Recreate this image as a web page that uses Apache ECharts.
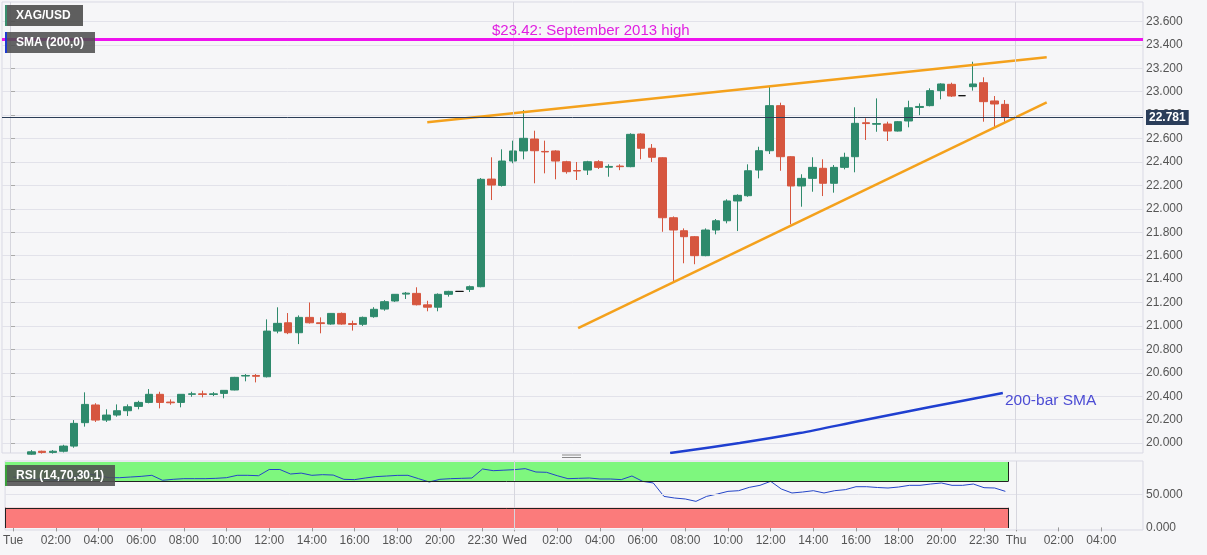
<!DOCTYPE html>
<html>
<head>
<meta charset="utf-8">
<title>XAG/USD</title>
<script src="https://cdn.jsdelivr.net/npm/echarts@6/dist/echarts.min.js"></script>
<style>
  html, body { margin: 0; padding: 0; background: #f6f6f8; }
  #chart { width: 1207px; height: 555px; }
</style>
</head>
<body>
<div id="chart"></div>
<script>
// x axis: bar index of each time label (30 min bars, 22:00 bar missing each day)
const tickBars = [0, 4, 8, 12, 16, 20, 24, 28, 32, 36, 40, 44,
  47, 51, 55, 59, 63, 67, 71, 75, 79, 83, 87, 91, 94, 98, 102];
const tickLabels = ['Tue', '02:00', '04:00', '06:00', '08:00', '10:00', '12:00', '14:00', '16:00', '18:00', '20:00', '22:30',
  'Wed', '02:00', '04:00', '06:00', '08:00', '10:00', '12:00', '14:00', '16:00', '18:00', '20:00', '22:30',
  'Thu', '02:00', '04:00'];
const dayBars = [0, 47, 94];

const priceTicks = [20.0, 20.2, 20.4, 20.6, 20.8, 21.0, 21.2, 21.4, 21.6, 21.8, 22.0,
  22.2, 22.4, 22.6, 22.8, 23.0, 23.2, 23.4, 23.6];
const rsiTicks = [0, 50];

// [open, close, low, high] per bar
const candles = [
  [19.89, 19.90, 19.86, 19.91], [19.90, 19.905, 19.88, 19.912], [19.905, 19.925, 19.90, 19.94], [19.93, 19.92, 19.91, 19.935],
  [19.92, 19.93, 19.91, 19.94], [19.93, 19.974, 19.92, 19.985], [19.974, 20.168, 19.96, 20.196], [20.174, 20.33, 20.14, 20.433],
  [20.325, 20.196, 20.18, 20.34], [20.196, 20.239, 20.18, 20.288], [20.239, 20.276, 20.225, 20.33], [20.276, 20.31, 20.231, 20.33],
  [20.313, 20.347, 20.288, 20.361], [20.347, 20.416, 20.339, 20.461], [20.416, 20.347, 20.296, 20.438], [20.35, 20.344, 20.327, 20.373],
  [20.347, 20.416, 20.305, 20.416], [20.416, 20.42, 20.395, 20.438], [20.42, 20.415, 20.39, 20.447], [20.415, 20.42, 20.401, 20.435],
  [20.424, 20.45, 20.382, 20.45], [20.453, 20.561, 20.45, 20.565], [20.572, 20.577, 20.527, 20.589], [20.577, 20.57, 20.518, 20.589],
  [20.566, 20.956, 20.56, 21.056], [20.956, 21.022, 20.937, 21.159], [21.027, 20.942, 20.93, 21.11], [20.942, 21.073, 20.845, 21.09],
  [21.073, 21.027, 21.02, 21.2], [21.027, 21.02, 20.937, 21.073], [21.016, 21.107, 21.01, 21.11], [21.107, 21.016, 21.01, 21.115],
  [21.02, 21.012, 20.96, 21.045], [21.014, 21.073, 21.0, 21.08], [21.079, 21.142, 21.07, 21.16], [21.144, 21.207, 21.13, 21.22],
  [21.213, 21.27, 21.205, 21.272], [21.272, 21.28, 21.23, 21.29], [21.278, 21.181, 21.175, 21.33], [21.18, 21.16, 21.125, 21.215],
  [21.16, 21.27, 21.125, 21.278], [21.27, 21.295, 21.25, 21.30], [21.295, 21.295, 21.295, 21.295], [21.312, 21.335, 21.29, 21.345],
  [21.335, 22.252, 21.33, 22.263], [22.254, 22.203, 22.075, 22.44], [22.2, 22.408, 22.19, 22.508], [22.408, 22.494, 22.389, 22.582],
  [22.494, 22.602, 22.423, 22.844], [22.596, 22.496, 22.218, 22.667], [22.49, 22.486, 22.303, 22.582], [22.494, 22.408, 22.252, 22.50],
  [22.402, 22.317, 22.30, 22.41], [22.327, 22.323, 22.246, 22.40], [22.331, 22.402, 22.289, 22.41], [22.402, 22.354, 22.34, 22.415],
  [22.355, 22.362, 22.274, 22.38], [22.365, 22.36, 22.33, 22.38], [22.36, 22.636, 22.355, 22.645], [22.639, 22.517, 22.423, 22.645],
  [22.517, 22.44, 22.40, 22.553], [22.436, 21.924, 21.804, 22.44], [21.924, 21.819, 21.377, 21.935], [21.813, 21.762, 21.535, 21.833],
  [21.762, 21.6, 21.527, 21.768], [21.6, 21.819, 21.595, 21.833], [21.819, 21.898, 21.782, 21.913], [21.898, 22.067, 21.876, 22.081],
  [22.067, 22.115, 21.81, 22.124], [22.112, 22.325, 22.103, 22.38], [22.331, 22.496, 22.26, 22.53], [22.496, 22.881, 22.468, 23.043],
  [22.881, 22.445, 22.325, 22.906], [22.445, 22.195, 21.868, 22.45], [22.195, 22.26, 22.018, 22.295], [22.26, 22.354, 22.146, 22.44],
  [22.346, 22.218, 22.109, 22.423], [22.218, 22.354, 22.138, 22.374], [22.354, 22.44, 22.337, 22.479], [22.445, 22.73, 22.312, 22.867],
  [22.735, 22.728, 22.588, 22.773], [22.722, 22.728, 22.658, 22.943], [22.724, 22.664, 22.579, 22.744], [22.664, 22.744, 22.66, 22.75],
  [22.75, 22.863, 22.696, 22.923], [22.866, 22.874, 22.80, 22.90], [22.881, 23.009, 22.875, 23.029], [23.009, 23.066, 22.935, 23.072],
  [23.063, 22.963, 22.955, 23.077], [22.966, 22.966, 22.966, 22.966], [23.043, 23.066, 23.009, 23.256], [23.077, 22.915, 22.744, 23.123],
  [22.921, 22.895, 22.696, 22.963], [22.892, 22.781, 22.744, 22.929]
];

// RSI(14) per bar
const rsi = [77, 76, 74, 73, 72, 73, 78, 82, 79, 76,
  76, 77, 78, 79.6, 72, 73.5, 74.5, 74.5, 74.5, 75,
  76, 79.6, 79.6, 79, 88.5, 88.5, 81.6, 83, 79.6, 80.6,
  80, 73.5, 73, 75.5, 77.6, 78.5, 79.5, 79.6, 74.5, 69.4,
  73.5, 74.5, 75, 75.5, 89.3, 86.7, 87.5, 88.3, 89.8, 84.7,
  84.2, 79, 74.5, 75, 75.5, 74, 74, 73, 78.6, 70.4,
  67.9, 47.4, 44.9, 43.4, 39.8, 47.4, 51, 55.1, 56.1, 61.2,
  64.3, 70.4, 58.7, 52.6, 54.1, 56.1, 52.6, 56.1, 57.7, 62.2,
  62.2, 61, 60.2, 61.7, 64.3, 64.3, 66.3, 67.9, 64.3, 64.3,
  66.3, 60.7, 60.2, 55.1];

// 200-bar SMA, [bar, price] read along the visible part of the line
const sma = [[61.7, 19.915], [68.2, 20.0], [73.8, 20.085], [79.4, 20.188], [86, 20.307], [92.8, 20.427]];
// trend lines, [bar, price]
const trendUpper = [[39.0, 22.739], [96.9, 23.294]];
const trendLower = [[53.1, 20.982], [96.9, 22.909]];
const resistance = 23.447;
const lastPrice = 22.781;

const upColor = '#2e8a6c';
const downColor = '#d6563f';
const fontFam = '"Liberation Sans", Arial, sans-serif';

const chart = echarts.init(document.getElementById('chart'));

const option = {
  animation: false,
  backgroundColor: '#f6f6f8',
  grid: [
    { left: 2, top: 2, width: 1141, height: 451, show: true, borderColor: '#d9d9e4', backgroundColor: 'transparent' },
    { left: 2, top: 461, width: 1141, height: 69, show: true, borderColor: '#d9d9e4', backgroundColor: 'transparent' }
  ],
  xAxis: [
    { type: 'value', gridIndex: 0, min: -0.75, max: 105.9, show: false, splitLine: { show: false } },
    {
      type: 'value', gridIndex: 1, min: -0.75, max: 105.9,
      axisLine: { show: false },
      splitLine: { show: false },
      axisTick: { show: true, customValues: tickBars, length: 4, lineStyle: { color: '#999' } },
      axisLabel: {
        customValues: tickBars,
        formatter: v => tickLabels[tickBars.indexOf(v)],
        color: '#555', fontSize: 12, fontFamily: fontFam, margin: 5
      }
    }
  ],
  yAxis: [
    {
      type: 'value', gridIndex: 0, position: 'right', min: 19.915, max: 23.766,
      axisLine: { show: false },
      axisTick: { show: true, customValues: priceTicks, length: 5, lineStyle: { color: '#aaa' } },
      axisLabel: {
        customValues: priceTicks,
        formatter: v => v.toFixed(3),
        color: '#555', fontSize: 12, fontFamily: fontFam, margin: 3
      },
      splitLine: { show: true, lineStyle: { color: '#e2e2ea' } }
    },
    {
      type: 'value', gridIndex: 1, position: 'right', min: -4, max: 101.5,
      axisLine: { show: false },
      axisTick: { show: true, customValues: rsiTicks, length: 5, lineStyle: { color: '#aaa' } },
      axisLabel: {
        customValues: rsiTicks,
        formatter: v => v.toFixed(3),
        color: '#555', fontSize: 12, fontFamily: fontFam, margin: 3
      },
      splitLine: { show: false }
    }
  ],
  series: [
    {
      name: 'SMA',
      type: 'line',
      xAxisIndex: 0, yAxisIndex: 0,
      data: sma,
      smooth: 0.3,
      symbol: 'none',
      z: 1,
      lineStyle: { color: '#1f3fd0', width: 2.5 },
      markLine: {
        silent: true, symbol: 'none', label: { show: false },
        lineStyle: { color: '#d6d6de', width: 1, type: 'solid' },
        data: dayBars.map(b => ({ xAxis: b }))
      }
    },
    {
      name: 'XAG/USD',
      type: 'candlestick',
      xAxisIndex: 0, yAxisIndex: 0,
      data: candles.map((c, i) => [i, c[0], c[1], c[2], c[3]]),
      encode: { x: 0, y: [1, 2, 3, 4] },
      barWidth: 8,
      z: 3,
      itemStyle: {
        color: upColor, color0: downColor,
        borderColor: upColor, borderColor0: downColor,
        borderColorDoji: '#111', borderWidth: 1
      },
      markLine: {
        silent: true, symbol: 'none',
        data: [
          { yAxis: resistance, lineStyle: { color: '#ee12ee', width: 3, type: 'solid' }, label: { show: false } },
          {
            yAxis: lastPrice,
            lineStyle: { color: '#2b3d57', width: 1, type: 'solid' },
            label: {
              show: true, position: 'end', distance: 3,
              formatter: lastPrice.toFixed(3),
              backgroundColor: '#2a3d5a', color: '#fff', fontWeight: 'bold',
              fontSize: 12, fontFamily: fontFam, padding: [2, 3, 1, 3]
            }
          }
        ]
      }
    },
    {
      name: 'upper trend',
      type: 'line',
      xAxisIndex: 0, yAxisIndex: 0,
      data: trendUpper,
      symbol: 'none', z: 4,
      lineStyle: { color: '#f4a11c', width: 2.5 }
    },
    {
      name: 'lower trend',
      type: 'line',
      xAxisIndex: 0, yAxisIndex: 0,
      data: trendLower,
      symbol: 'none', z: 4,
      lineStyle: { color: '#f4a11c', width: 2.5 }
    },
    {
      name: 'RSI',
      type: 'line',
      xAxisIndex: 1, yAxisIndex: 1,
      data: rsi.map((v, i) => [i, v]),
      symbol: 'none', z: 3,
      lineStyle: { color: '#2445c8', width: 1 },
      markArea: {
        silent: true,
        data: [
          [{ xAxis: -0.75, yAxis: 70, itemStyle: { color: '#7ef77e' } }, { xAxis: 93.25, yAxis: 100 }],
          [{ xAxis: -0.75, yAxis: -1, itemStyle: { color: '#fb7b7b' } }, { xAxis: 93.25, yAxis: 30 }]
        ]
      },
      markLine: {
        silent: true, symbol: 'none', label: { show: false },
        lineStyle: { color: '#222', width: 1, type: 'solid' },
        data: [
          { yAxis: 50, lineStyle: { color: '#e2e2ea' } },
          { xAxis: 47, lineStyle: { color: '#d6d6de' } },
          { xAxis: 94, lineStyle: { color: '#d6d6de' } },
          [{ coord: [-0.75, 70] }, { coord: [93.25, 70] }],
          [{ coord: [-0.75, 30] }, { coord: [93.25, 30] }],
          [{ coord: [93.25, 70] }, { coord: [93.25, 100] }],
          [{ coord: [93.25, -1] }, { coord: [93.25, 30] }],
          [{ coord: [-0.75, -1] }, { coord: [-0.75, 30] }]
        ]
      }
    }
  ],
  graphic: [
    { type: 'rect', z: 100, shape: { x: 5, y: 5, width: 78, height: 21 }, style: { fill: 'rgba(80,80,80,0.92)' } },
    { type: 'rect', z: 101, shape: { x: 5, y: 5, width: 2, height: 21 }, style: { fill: '#3a8f6e' } },
    { type: 'text', z: 101, style: { text: 'XAG/USD', x: 16, y: 16, verticalAlign: 'middle', fill: '#fff', font: 'bold 12px ' + fontFam } },

    { type: 'rect', z: 100, shape: { x: 5, y: 32, width: 90, height: 21 }, style: { fill: 'rgba(80,80,80,0.88)' } },
    { type: 'rect', z: 101, shape: { x: 5, y: 32, width: 2, height: 21 }, style: { fill: '#1f3bd0' } },
    { type: 'text', z: 101, style: { text: 'SMA (200,0)', x: 16, y: 43, verticalAlign: 'middle', fill: '#fff', font: 'bold 12px ' + fontFam } },

    { type: 'rect', z: 100, shape: { x: 5, y: 465, width: 110, height: 21 }, style: { fill: 'rgba(80,80,80,0.88)' } },
    { type: 'rect', z: 101, shape: { x: 5, y: 465, width: 2, height: 21 }, style: { fill: '#3a9f3a' } },
    { type: 'text', z: 101, style: { text: 'RSI (14,70,30,1)', x: 16, y: 476, verticalAlign: 'middle', fill: '#fff', font: 'bold 12px ' + fontFam } },

    { type: 'text', z: 50, style: { text: '$23.42: September 2013 high', x: 492, y: 31, verticalAlign: 'middle', fill: '#e01fe0', font: '15px ' + fontFam } },
    { type: 'text', z: 50, style: { text: '200-bar SMA', x: 1005, y: 401, verticalAlign: 'middle', fill: '#4c4cd4', font: '15.5px ' + fontFam } },

    { type: 'line', z: 50, shape: { x1: 562, y1: 455, x2: 581, y2: 455 }, style: { stroke: '#888', lineWidth: 1 } },
    { type: 'line', z: 50, shape: { x1: 562, y1: 457.5, x2: 581, y2: 457.5 }, style: { stroke: '#888', lineWidth: 1 } }
  ]
};

chart.setOption(option);
</script>
</body>
</html>
